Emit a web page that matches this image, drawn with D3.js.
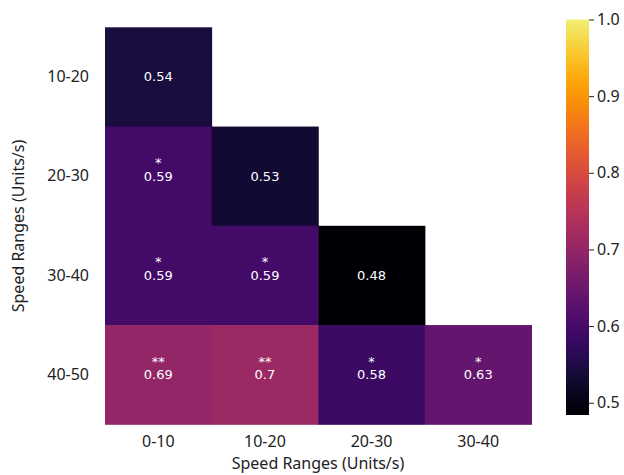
<!DOCTYPE html>
<html>
<head>
<meta charset="utf-8">
<script src="https://cdn.jsdelivr.net/npm/d3@7"></script>
<style>
  body { margin: 0; background: white; }
  text { fill: #222; }
</style>
</head>
<body>
<svg id="chart" width="624" height="475"></svg>
<script>
// data
var cols = ["0-10", "10-20", "20-30", "30-40"];
var rows = ["10-20", "20-30", "30-40", "40-50"];
var values = [
    [0.54],
    [0.59, 0.53],
    [0.59, 0.59, 0.48],
    [0.69, 0.70, 0.58, 0.63]
];
var stars = [
    [""],
    ["*", ""],
    ["*", "*", ""],
    ["**", "**", "*", "*"]
];
var cbarTicks = [0.5, 0.6, 0.7, 0.8, 0.9, 1.0];
var vmin = 0.484, vmax = 1.0;

var svg = d3.select("#chart");

var x = d3.scaleBand().domain(cols).range([105, 531.5]);
var y = d3.scaleBand().domain(rows).range([27.3, 424.3]);
var color = d3.scaleSequential(d3.interpolateInferno).domain([vmin, vmax]);

var cells = [];
for (var i = 0; i < values.length; ++i) {
    for (var j = 0; j < values[i].length; ++j) {
        cells.push({row: rows[i], col: cols[j], v: values[i][j], s: stars[i][j]});
    }
}

svg.selectAll(".cell")
    .data(cells)
    .enter()
    .append("rect")
    .attr("class", "cell")
    .attr("x", d => x(d.col))
    .attr("y", d => y(d.row))
    .attr("width", x.bandwidth() + 0.5)
    .attr("height", y.bandwidth() + 0.5)
    .attr("fill", d => color(d.v));

svg.selectAll(".val")
    .data(cells)
    .enter()
    .append("text")
    .attr("x", d => x(d.col) + x.bandwidth() / 2)
    .attr("y", d => y(d.row) + y.bandwidth() / 2 + 4.5)
    .attr("text-anchor", "middle")
    .style("font-family", "DejaVu Sans")
    .style("font-size", "13px")
    .style("fill", "white")
    .text(d => d.v);

svg.selectAll(".star")
    .data(cells.filter(d => d.s))
    .enter()
    .append("text")
    .attr("x", d => x(d.col) + x.bandwidth() / 2)
    .attr("y", d => y(d.row) + y.bandwidth() / 2 - 9)
    .attr("text-anchor", "middle")
    .style("font-family", "DejaVu Sans")
    .style("font-size", "13px")
    .style("fill", "white")
    .text(d => d.s);

// axes
var xAxis = svg.append("g")
    .attr("transform", "translate(0,424.3)")
    .call(d3.axisBottom(x).tickSize(0).tickPadding(11));
var yAxis = svg.append("g")
    .attr("transform", "translate(105,0)")
    .call(d3.axisLeft(y).tickSize(0).tickPadding(16));
[xAxis, yAxis].forEach(function(a) {
    a.select(".domain").remove();
    a.selectAll("text")
        .style("font-family", "Noto Sans")
        .style("font-size", "16px")
        .style("fill", "#222");
});

svg.append("text")
    .attr("x", 318)
    .attr("y", 469)
    .attr("text-anchor", "middle")
    .style("font-family", "Noto Sans")
    .style("font-size", "16px")
    .text("Speed Ranges (Units/s)");

svg.append("text")
    .attr("transform", "translate(24,226) rotate(-90)")
    .attr("text-anchor", "middle")
    .style("font-family", "Noto Sans")
    .style("font-size", "16px")
    .text("Speed Ranges (Units/s)");

// colorbar
var cy = d3.scaleLinear().domain([vmin, vmax]).range([415, 19.5]);
var defs = svg.append("defs");
var grad = defs.append("linearGradient")
    .attr("id", "cbar")
    .attr("x1", "0").attr("y1", "1").attr("x2", "0").attr("y2", "0");
d3.range(0, 1.0001, 0.05).forEach(function(t) {
    grad.append("stop")
        .attr("offset", t)
        .attr("stop-color", d3.interpolateInferno(t * 0.95));
});
svg.append("rect")
    .attr("x", 566)
    .attr("y", cy(vmax))
    .attr("width", 23)
    .attr("height", cy(vmin) - cy(vmax))
    .attr("fill", "url(#cbar)");

var cAxis = svg.append("g")
    .attr("transform", "translate(589,0)")
    .call(d3.axisRight(cy).tickValues(cbarTicks).tickFormat(d3.format(".1f")).tickSize(5).tickPadding(3));
cAxis.select(".domain").remove();
cAxis.selectAll("line").attr("stroke", "#222");
cAxis.selectAll("text")
    .style("font-family", "Noto Sans")
    .style("font-size", "16px")
    .style("fill", "#222");
</script>
</body>
</html>
